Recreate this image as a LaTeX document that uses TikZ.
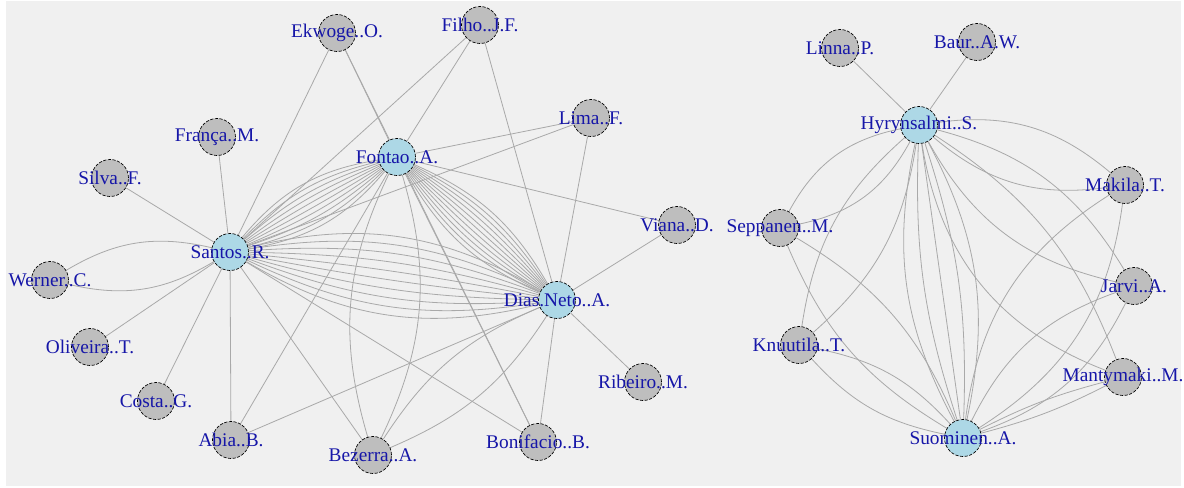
\documentclass[tikz,border=0pt]{standalone}
\usepackage{fontspec}
\setmainfont{Liberation Serif}
\pgfdeclarelayer{bg}
\pgfdeclarelayer{edges}
\pgfsetlayers{bg,edges,main}
\definecolor{nodegray}{HTML}{BEBEBE}
\definecolor{nodeblue}{HTML}{ADD8E6}
\definecolor{edgegray}{HTML}{A9A9A9}
\definecolor{labelblue}{RGB}{22,22,168}
\definecolor{panelgray}{HTML}{F0F0F0}
\tikzset{
  author/.style={circle, draw=black, line width=0.5pt, dash pattern=on 2.4pt off 1.1pt,
    fill=nodegray, minimum size=27.75pt, inner sep=0pt,
    label={[text=labelblue, font=\fontsize{14.5}{16}\selectfont, inner sep=0pt]center:#1}},
  hub/.style={author=#1, fill=nodeblue},
  edge/.style={draw=edgegray, line width=0.6pt},
}
\begin{document}
\begin{tikzpicture}[x=0.75pt, y=-0.75pt]
		\useasboundingbox (0,0) rectangle (1184,488);
		\begin{pgfonlayer}{bg}
		\fill[white] (0,0) rectangle (1184,488);
		\fill[panelgray] (6,1) rectangle (1181,486);
		\end{pgfonlayer}
		
		%%%%% LEFT COMPONENT %%%%%
		\node[author=Ekwoge..O.] (ekwoge) at (337,33) {};
		\node[author=Filho..J.F.] (filho) at (480,25) {};
		\node[author=França..M.] (franca) at (217,137) {};
		\node[author=Silva..F.] (silva) at (110,178) {};
		\node[hub=Fontao..A.] (fontao) at (397,157) {};
		\node[author=Lima..F.] (lima) at (591,118) {};
		\node[author=Viana..D.] (viana) at (677,225) {};
		\node[hub=Santos..R.] (santos) at (230,252) {};
		\node[author=Werner..C.] (werner) at (50,280) {};
		\node[author=Oliveira..T.] (oliveira) at (90,347) {};
		\node[author=Costa..G.] (costa) at (156,401) {};
		\node[author=Abia..B.] (abia) at (231,440) {};
		\node[author=Bezerra..A.] (bezerra) at (373,455) {};
		\node[hub=Dias.Neto..A.] (dias) at (557,300) {};
		\node[author=Ribeiro..M.] (ribeiro) at (643,382) {};
		\node[author=Bonifacio..B.] (bonifacio) at (538,442) {};
		
		%%%%% RIGHT COMPONENT %%%%%
		\node[author=Linna..P.] (linna) at (840,48) {};
		\node[author=Baur..A.W.] (baur) at (977,42) {};
		\node[hub=Hyrynsalmi..S.] (hyry) at (919,125) {};
		\node[author=Makila..T.] (makila) at (1125,185) {};
		\node[author=Seppanen..M.] (seppanen) at (780,228) {};
		\node[author=Jarvi..A.] (jarvi) at (1134,286) {};
		\node[author=Knuutila..T.] (knuutila) at (799,345) {};
		\node[author=Mantymaki..M.] (mantymaki) at (1123,377) {};
		\node[hub=Suominen..A.] (suominen) at (963,438) {};
		
		\begin{pgfonlayer}{edges}
		% santos
		\foreach \n in {silva,franca,ekwoge,filho,lima,oliveira,costa,abia,bezerra,bonifacio}
			\draw[edge] (santos) -- (\n);
		\foreach \b in {-22,22}
			\draw[edge] (santos) to[bend left=\b] (werner);
		\foreach \b in {-20,-15.5,...,21}
			\draw[edge] (santos) to[bend left=\b] (fontao);
		\foreach \b in {-22,-17.1,...,23}
			\draw[edge] (santos) to[bend left=\b] (dias);
		% fontao
		\foreach \n in {ekwoge,filho,lima,viana,abia,bonifacio}
			\draw[edge] (fontao) -- (\n);
		\foreach \b in {-21,21}
			\draw[edge] (fontao) to[bend left=\b] (bezerra);
		\foreach \b in {-18,-14.4,...,19}
			\draw[edge] (fontao) to[bend left=\b] (dias);
		% dias neto
		\foreach \n in {filho,lima,viana,ribeiro,bonifacio,abia}
			\draw[edge] (dias) -- (\n);
		\foreach \b in {-17,17}
			\draw[edge] (dias) to[bend left=\b] (bezerra);
		\draw[edge] (ekwoge) -- (bonifacio);
		
		% hyrynsalmi
		\draw[edge] (hyry) -- (linna);
		\draw[edge] (hyry) -- (baur);
		\foreach \b in {-25,25}
			\draw[edge] (hyry) to[bend left=\b] (seppanen);
		\foreach \b in {-24,24}
			\draw[edge] (hyry) to[bend left=\b] (makila);
		\foreach \b in {-20,20}
			\draw[edge] (hyry) to[bend left=\b] (knuutila);
		\foreach \b in {-24,22}
			\draw[edge] (hyry) to[bend left=\b] (jarvi);
		\foreach \b in {-30,18}
			\draw[edge] (hyry) to[bend left=\b] (mantymaki);
		\foreach \b in {-20,-10,...,20}
			\draw[edge] (hyry) to[bend left=\b] (suominen);
		% suominen
		\foreach \b in {-18,18}
			\draw[edge] (suominen) to[bend left=\b] (seppanen);
		\foreach \b in {-18,18}
			\draw[edge] (suominen) to[bend left=\b] (knuutila);
		\foreach \b in {-25,25}
			\draw[edge] (suominen) to[bend left=\b] (makila);
		\foreach \b in {-22,22}
			\draw[edge] (suominen) to[bend left=\b] (jarvi);
		\foreach \b in {-6,6}
			\draw[edge] (suominen) to[bend left=\b] (mantymaki);
		\end{pgfonlayer}
	\end{tikzpicture}
\end{document}
